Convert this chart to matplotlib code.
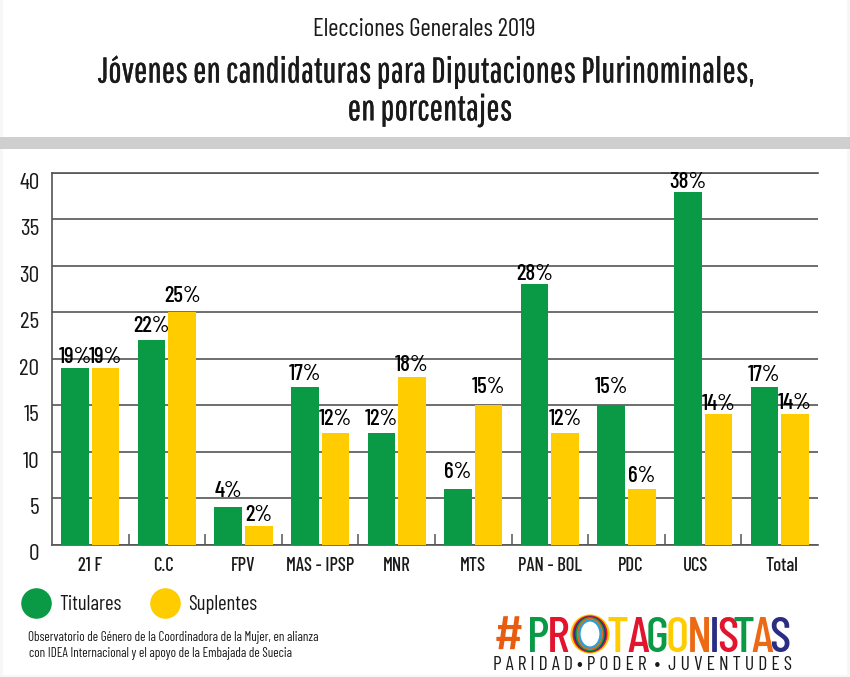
#!/usr/bin/env python3
"""Jovenes en candidaturas, Elecciones Generales 2019."""

import matplotlib

matplotlib.use("Agg")
import matplotlib.patheffects as pe
import matplotlib.pyplot as plt
from matplotlib.lines import Line2D
from matplotlib.patches import Ellipse, Rectangle
import numpy as np

FONT = ["Barlow Condensed", "Roboto", "DejaVu Sans"]
TITLE_FONT = ["Pathway Gothic One", "Barlow Condensed", "Roboto", "DejaVu Sans"]
plt.rcParams["font.family"] = FONT

partidos = ["21 F", "C.C", "FPV", "MAS - IPSP", "MNR", "MTS", "PAN - BOL", "PDC", "UCS", "Total"]
titulares = [19, 22, 4, 17, 12, 6, 28, 15, 38, 17]
suplentes = [19, 25, 2, 12, 18, 15, 12, 6, 14, 14]
yticks = [0, 5, 10, 15, 20, 25, 30, 35, 40]

# how far above its bar each value label sits in the original, in pixels
lift_titulares = [11, 14, 16, 13, 14, 17, 10, 18, 10, 12]
lift_suplentes = [11, 16, 11, 14, 12, 18, 14, 13, 10, 11]
# the category labels are not quite centred in the original
label_shift = [0, -0.04, 0, 0, 0, 0, 0, 0.05, -0.1, 0.03]

GREEN = "#0a9a46"
YELLOW = "#ffcc00"
GRID = "#555555"
INK = "#1a1a1a"

W, H = 850, 677

fig = plt.figure(figsize=(W / 100, H / 100), dpi=100, facecolor="#f7f7f7")

# overlay in pixel coordinates for the header, footer and logo
over = fig.add_axes([0, 0, 1, 1], zorder=0)
over.set_xlim(0, W)
over.set_ylim(H, 0)
over.axis("off")
over.add_patch(Rectangle((3, 0), W - 6, H - 2, color="white", lw=0))
over.add_patch(Rectangle((0, 137), W, 12, color="#cfcfcf", lw=0))
over.text(424, 29, "Elecciones Generales 2019", ha="center", va="center", fontsize=18, color=INK)
heavier = [pe.withStroke(linewidth=0.2, foreground=INK)]
over.text(426, 72, "Jóvenes en candidaturas para Diputaciones Plurinominales,",
          ha="center", va="center", fontsize=25.7, family=TITLE_FONT, color=INK, path_effects=heavier)
over.text(430, 110, "en porcentajes", ha="center", va="center", fontsize=25.7,
          family=TITLE_FONT, color=INK, path_effects=heavier)

over.text(28, 638, "Observatorio de Género de la Coordinadora de la Mujer, en alianza",
          ha="left", va="center", fontsize=9.45, color=INK)
over.text(29, 653, "con IDEA Internacional y el apoyo de la Embajada de Suecia",
          ha="left", va="center", fontsize=9.45, color=INK)

# logo, one letter at a time
logo = [("#", 509, "#e85c10"), ("P", 538, "#0a9a46"), ("R", 558, "#e3142d"),
        ("T", 618, "#ffcc00"), ("A", 638, "#e3142d"), ("G", 657, "#0a9a46"),
        ("O", 677, "#ffcc00"), ("N", 699, "#ec6a13"), ("I", 714, "#2b2d83"),
        ("S", 728, "#e3142d"), ("T", 744, "#0a9a46"), ("A", 762, "#ec6a13"),
        ("S", 780, "#2b2d83")]
for letra, x, color in logo:
    over.text(x, 652, letra, ha="center", va="baseline", fontsize=36,
              fontweight="medium", color=color)
for (w, h, color) in [(37, 37, "#ffcc00"), (33, 35, "#e3142d"), (30, 33, "#2b2d83"),
                      (27, 32, "#0a9a46"), (24, 30, "#ec6a13"), (21, 27, "#2a9fd8")]:
    over.add_patch(Ellipse((590, 634), w, h, fill=False, ec=color, lw=1.6))
over.text(643, 665, "P A R I D A D • P O D E R  •  J U V E N T U D E S", ha="center", va="center",
          fontsize=14.2, color=INK)

# plot area
ax = fig.add_axes([52 / W, 1 - 544.5 / H, 766 / W, 371.5 / H], zorder=1)
ax.patch.set_alpha(0)
x = np.arange(len(partidos))
barras_t = ax.bar(x - 0.2, titulares, 0.36, color=GREEN, zorder=3)
barras_s = ax.bar(x + 0.2, suplentes, 0.36, color=YELLOW, zorder=3)
for barras, lifts in ((barras_t, lift_titulares), (barras_s, lift_suplentes)):
    for b, lift in zip(barras, lifts):
        ax.annotate(f"{b.get_height():.0f}%", (b.get_x() + b.get_width() / 2, b.get_height()),
                    xytext=(0, lift * 0.72), textcoords="offset points", ha="center", va="center",
                    fontsize=16.5, fontweight="medium", color="black", zorder=4)

ax.set_xlim(-0.5, len(partidos) - 0.5)
ax.set_ylim(0, 40)
ax.set_yticks(yticks)
ax.set_xticks(x + np.array(label_shift))
ax.set_xticklabels(partidos, fontsize=13.5, fontweight="medium", color=INK)
ax.set_xticks(x[:-1] + 0.5, minor=True)
ax.tick_params(axis="x", which="major", length=0, pad=9)
ax.tick_params(axis="x", which="minor", direction="in", length=8, width=1.1, color=GRID)
ax.tick_params(axis="y", length=0, labelsize=17, pad=9, labelcolor=INK)
plt.setp(ax.get_yticklabels(), va="top")
ax.grid(axis="y", color=GRID, lw=1.2, zorder=1)
ax.set_axisbelow(True)
ax.spines["right"].set_visible(False)
for lado in ("left", "bottom", "top"):
    ax.spines[lado].set_color(GRID)
    ax.spines[lado].set_linewidth(1.2)

handles = [Line2D([], [], ls="", marker="o", ms=21, color=GREEN, label="Titulares"),
           Line2D([], [], ls="", marker="o", ms=21, color=YELLOW, label="Suplentes")]
fig.legend(handles=handles, loc="center left", bbox_to_anchor=(9 / W, 1 - 605 / H), ncols=2,
           frameon=False, fontsize=15, handlelength=0.8, handletextpad=0.72, columnspacing=1.67,
           labelcolor=INK)

fig.savefig("out.png", dpi=100)
